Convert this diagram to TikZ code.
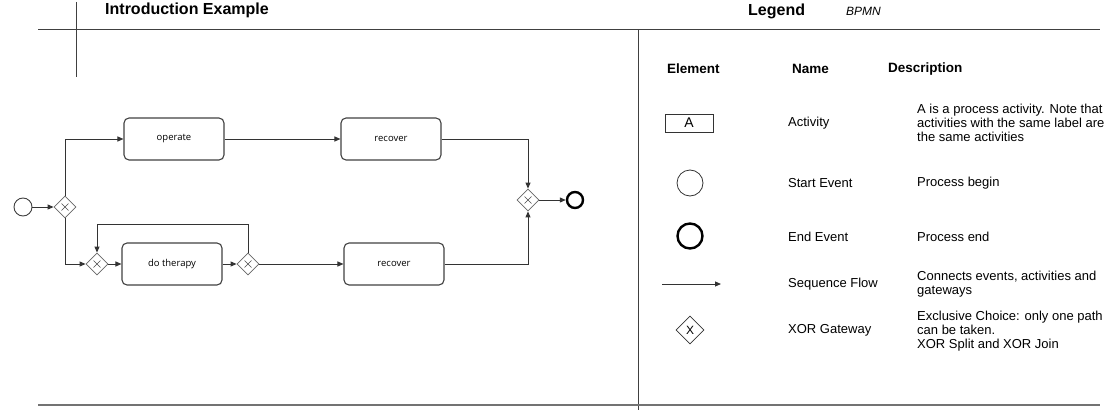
\documentclass[tikz,border=0pt]{standalone}
\usepackage{fontspec}
\setmainfont{Liberation Sans}
\newfontfamily\diagfont{Open Sans}
\usetikzlibrary{arrows.meta,shapes.geometric}
\begin{document}
\begin{tikzpicture}[x=1pt,y=-1pt,
  rule/.style={draw=black!75, line width=1pt},
  flow/.style={draw=black!80, line width=1pt, -{Triangle[length=6pt,width=5pt]}},
  task/.style={draw=black!75, line width=1.1pt, rounded corners=5pt, minimum width=100pt, minimum height=42pt, inner sep=0pt, font=\diagfont\fontsize{9.5}{11}\selectfont},
  gw/.style={diamond, draw=black!60, line width=0.8pt, minimum size=22pt, inner sep=0pt,
    path picture={\draw[black!70, line width=0.6pt]
      ([xshift=-3.5pt,yshift=-3.5pt]path picture bounding box.center) -- ([xshift=3.5pt,yshift=3.5pt]path picture bounding box.center)
      ([xshift=-3.5pt,yshift=3.5pt]path picture bounding box.center) -- ([xshift=3.5pt,yshift=-3.5pt]path picture bounding box.center);}},
  startev/.style={circle, draw=black!75, line width=0.9pt, minimum size=18pt, inner sep=0pt},
  endev/.style={circle, draw=black, line width=2.4pt, minimum size=16pt, inner sep=0pt},
  title/.style={font=\bfseries\fontsize{16}{18}\selectfont, anchor=west, inner sep=0pt},
  head/.style={font=\bfseries\fontsize{13.5}{16}\selectfont, anchor=west, inner sep=0pt},
  txt/.style={font=\fontsize{13}{14}\selectfont, anchor=west, inner sep=0pt, align=left},
]
\useasboundingbox (0,0) rectangle (1117,420);

% frame lines
\coordinate (tl) at (38,30); \coordinate (tr) at (1100,30);
\coordinate (vt) at (76,2); \coordinate (vb) at (76,77);
\coordinate (dt) at (638,30); \coordinate (db) at (638,410);
\coordinate (bl) at (38,405); \coordinate (br) at (1100,405);
\draw[rule] (tl) -- (tr);
\draw[rule] (vt) -- (vb);
\draw[rule] (dt) -- (db);
\draw[draw=black!55, line width=1.5pt] (bl) -- (br);

% titles
\node[title] (t1) at (105,10) {Introduction Example};
\node[title] (t2) at (748,11) {Legend};
\node[font=\itshape\fontsize{12}{14}\selectfont, anchor=west, inner sep=0pt] (t3) at (846,11) {BPMN};

% process diagram
\node[startev] (start) at (23,207) {};
\node[gw] (g1) at (65,207) {};
\node[task] (op) at (174,139) {operate};
\node[task] (rc1) at (391,139) {recover};
\node[gw] (g2) at (97,264) {};
\node[task] (th) at (172,264) {do therapy};
\node[gw] (g3) at (248,264) {};
\node[task] (rc2) at (394,264) {recover};
\node[gw] (gj) at (528,200) {};
\node[endev] (endd) at (575,200) {};
\coordinate (lp) at (248,224);

\draw[flow] (start) -- (g1);
\draw[flow] (g1.north) |- (op.west);
\draw[flow] (op) -- (rc1);
\draw[flow] (rc1.east) -| (gj.north);
\draw[flow] (g1.south) |- (g2.west);
\draw[flow] (g2) -- (th);
\draw[flow] (th) -- (g3);
\draw[flow] (g3.north) -- (lp) -| (g2.north);
\draw[flow] (g3) -- (rc2);
\draw[flow] (rc2.east) -| (gj.south);
\draw[flow] (gj) -- (endd);

% legend headers
\node[head] (h1) at (667,69) {Element};
\node[head] (h2) at (792,69) {Name};
\node[head] (h3) at (888,69) {Description};

% legend rows
\node[draw=black!80, line width=0.8pt, minimum width=48pt, minimum height=18pt, inner sep=0pt, font=\fontsize{14}{16}\selectfont] (la) at (689,123) {A};
\node[txt] (na) at (788,123) {Activity};
\node[txt] (da) at (917,123) {A is a process activity. Note that\\activities with the same label are\\the same activities};

\node[circle, draw=black!80, line width=0.8pt, minimum size=26pt, inner sep=0pt] (ls) at (690,183) {};
\node[txt] (ns) at (788,183) {Start Event};
\node[txt] (ds) at (917,183) {Process begin};

\node[circle, draw=black, line width=2.4pt, minimum size=25pt, inner sep=0pt] (le) at (690,236) {};
\node[txt] (ne) at (788,237) {End Event};
\node[txt] (de) at (917,237) {Process end};

\coordinate (sa) at (662,284); \coordinate (sb) at (721,284);
\draw[flow] (sa) -- (sb);
\node[txt] (nf) at (788,284) {Sequence Flow};
\node[txt] (df) at (917,284) {Connects events, activities and\\gateways};

\node[diamond, draw=black!80, line width=0.7pt, minimum size=28pt, inner sep=0pt, font=\fontsize{12}{14}\selectfont] (lg) at (690,330) {X};
\node[txt] (ng) at (788,330) {XOR Gateway};
\node[txt] (dg) at (917,331) {Exclusive Choice: only one path\\can be taken.\\XOR Split and XOR Join};
\end{tikzpicture}
\end{document}
